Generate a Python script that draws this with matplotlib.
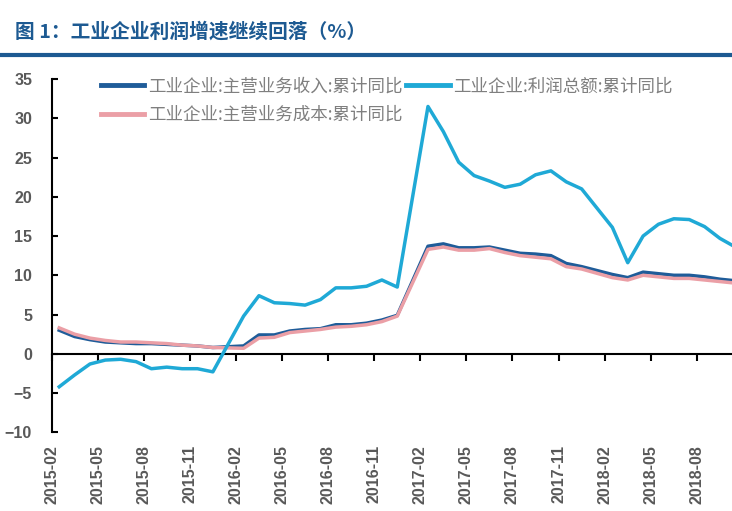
import numpy as np
import pandas as pd
import matplotlib
matplotlib.use("Agg")
import matplotlib.pyplot as plt
from matplotlib.lines import Line2D

plt.rcParams['font.family'] = ['Noto Sans CJK SC', 'DejaVu Sans']

# monthly cumulative data (no January releases)
months = ['2015-02', '2015-03', '2015-04', '2015-05', '2015-06', '2015-07', '2015-08',
          '2015-09', '2015-10', '2015-11', '2015-12',
          '2016-02', '2016-03', '2016-04', '2016-05', '2016-06', '2016-07', '2016-08',
          '2016-09', '2016-10', '2016-11', '2016-12',
          '2017-02', '2017-03', '2017-04', '2017-05', '2017-06', '2017-07', '2017-08',
          '2017-09', '2017-10', '2017-11', '2017-12',
          '2018-02', '2018-03', '2018-04', '2018-05', '2018-06', '2018-07', '2018-08',
          '2018-09', '2018-10']

revenue = [3.0, 2.2, 1.8, 1.5, 1.4, 1.3, 1.3, 1.2, 1.1, 1.0, 0.8,
           1.0, 2.4, 2.4, 2.9, 3.1, 3.2, 3.7, 3.7, 3.9, 4.3, 4.9,
           13.7, 14.0, 13.5, 13.5, 13.6, 13.2, 12.8, 12.7, 12.5, 11.5, 11.1,
           10.1, 9.7, 10.4, 10.2, 10.0, 10.0, 9.8, 9.5, 9.3]

profit = [-4.2, -2.7, -1.3, -0.8, -0.7, -1.0, -1.9, -1.7, -1.9, -1.9, -2.3,
          4.8, 7.4, 6.5, 6.4, 6.2, 6.9, 8.4, 8.4, 8.6, 9.4, 8.5,
          31.5, 28.3, 24.4, 22.7, 22.0, 21.2, 21.6, 22.8, 23.3, 21.9, 21.0,
          16.1, 11.6, 15.0, 16.5, 17.2, 17.1, 16.2, 14.7, 13.6]

cost = [3.3, 2.5, 2.0, 1.7, 1.5, 1.5, 1.4, 1.3, 1.1, 1.0, 0.8,
        0.7, 2.0, 2.1, 2.7, 2.9, 3.1, 3.4, 3.5, 3.7, 4.1, 4.8,
        13.3, 13.6, 13.2, 13.2, 13.4, 12.9, 12.5, 12.3, 12.1, 11.1, 10.8,
        9.7, 9.4, 10.0, 9.8, 9.6, 9.6, 9.4, 9.2, 9.0]

tick_months = ['2015-02', '2015-05', '2015-08', '2015-11', '2016-02', '2016-05',
               '2016-08', '2016-11', '2017-02', '2017-05', '2017-08', '2017-11',
               '2018-02', '2018-05', '2018-08']

labels = ['工业企业:主营业务收入:累计同比', '工业企业:利润总额:累计同比',
          '工业企业:主营业务成本:累计同比']

c_rev = '#1f5c99'
c_profit = '#1fa9d6'
c_cost = '#eb9fa6'
title_color = '#1d5a92'
tick_color = '#595959'

# month positions (Excel style: points sit between tick marks)
start = pd.Period(months[0], freq='M')
x = np.array([(pd.Period(m, freq='M') - start).n for m in months]) + 0.5
xt = [(pd.Period(m, freq='M') - start).n for m in tick_months]

fig = plt.figure(figsize=(7.32, 5.11), dpi=100)
ax = fig.add_axes([0.0704, 0.154, 0.9446, 0.6914])

l_rev, = ax.plot(x, revenue, color=c_rev, lw=2.5, zorder=3)
l_cost, = ax.plot(x, cost, color=c_cost, lw=2.5, zorder=4)
l_profit, = ax.plot(x, profit, color=c_profit, lw=2.5, zorder=5)

ax.set_xlim(0, 45)
ax.set_ylim(-10, 35)
ax.set_yticks(range(-10, 36, 5))

for s in ['top', 'right', 'bottom']:
    ax.spines[s].set_visible(False)
ax.spines['left'].set_linewidth(1.5)
ax.spines['left'].set_color('black')
ax.tick_params(axis='y', direction='in', length=4, width=1.5, colors='black',
               labelcolor=tick_color, labelsize=11.5, pad=14)
for t in ax.get_yticklabels():
    t.set_fontfamily('Liberation Sans')
    t.set_fontweight('bold')

ax.set_xticks(xt)
ax.set_xticklabels(tick_months, rotation=90, fontfamily='Liberation Sans',
                   fontweight='bold', fontsize=11.5, color=tick_color)
ax.tick_params(axis='x', length=0, pad=9)

# zero line axis with tick marks
sec = ax.secondary_xaxis(0, transform=ax.transData)
sec.spines['bottom'].set_linewidth(1.5)
sec.set_xticks(xt)
sec.set_xticklabels([])
sec.tick_params(axis='x', direction='out', length=5, width=1.5)

leg = ax.legend([l_rev, l_cost, l_profit], [labels[0], labels[2], labels[1]],
                ncol=2, frameon=False, loc='upper left',
                bbox_to_anchor=(0.128, 0.862), bbox_transform=fig.transFigure,
                fontsize=12.6, handlelength=2.5, handletextpad=0.2,
                columnspacing=0.2, labelspacing=0.6, borderaxespad=0)
for t in leg.get_texts():
    t.set_color('#7f7f7f')
for h in leg.legend_handles:
    h.set_linewidth(3.5)

fig.text(15 / 732, 1 - 32 / 511, '图 1：工业企业利润增速继续回落（%）',
         fontsize=14.2, fontweight='bold', color=title_color, va='center', ha='left')
fig.add_artist(Line2D([0, 1], [1 - 55 / 511] * 2, color=title_color, lw=3))

fig.savefig('out.png', dpi=100)
